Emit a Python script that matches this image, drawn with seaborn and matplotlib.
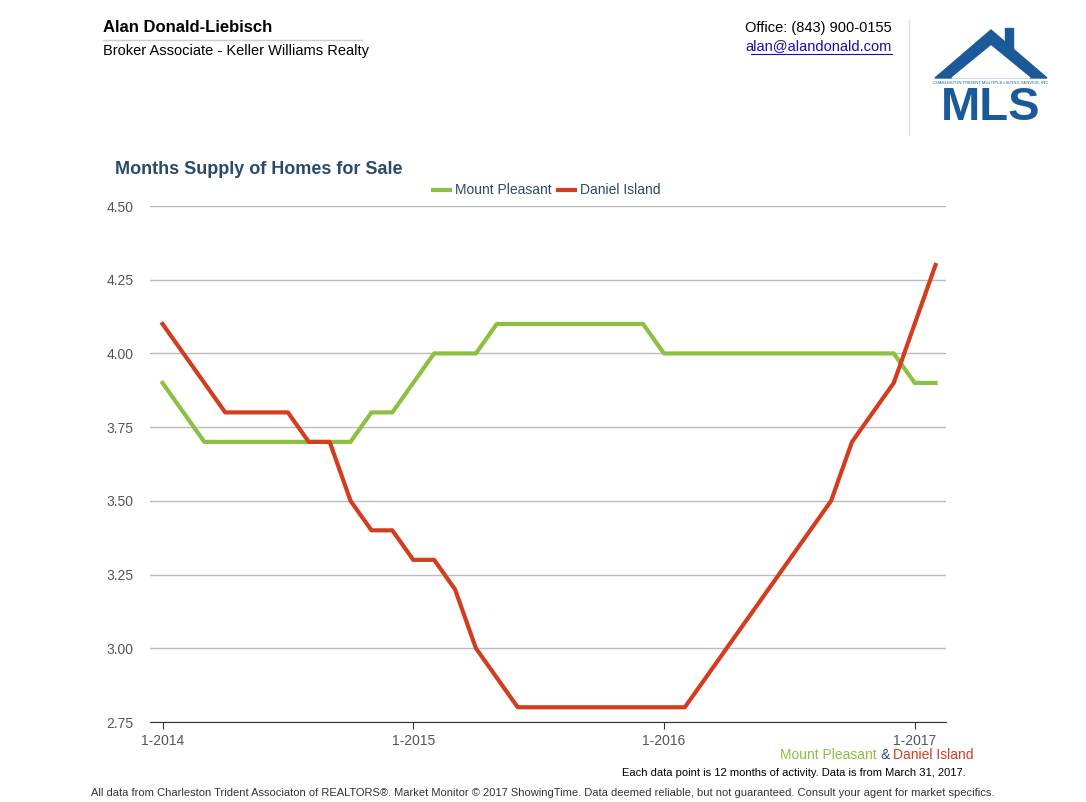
import matplotlib
matplotlib.use("Agg")
import matplotlib.pyplot as plt
import seaborn as sns
import pandas as pd
import numpy as np
from matplotlib.patches import Polygon, Rectangle

plt.rcParams["font.family"] = "Liberation Sans"

months = pd.date_range("2014-01-01", "2017-02-01", freq="MS")
mount_pleasant = [3.9,3.8,3.7,3.7,3.7,3.7,3.7,3.7,3.7,3.7,3.8,3.8,
                  3.9,4.0,4.0,4.0,4.1,4.1,4.1,4.1,4.1,4.1,4.1,4.1,
                  4.0,4.0,4.0,4.0,4.0,4.0,4.0,4.0,4.0,4.0,4.0,4.0,
                  3.9,3.9]
daniel_island = [4.1,4.0,3.9,3.8,3.8,3.8,3.8,3.7,3.7,3.5,3.4,3.4,
                 3.3,3.3,3.2,3.0,2.9,2.8,2.8,2.8,2.8,2.8,2.8,2.8,
                 2.8,2.8,2.9,3.0,3.1,3.2,3.3,3.4,3.5,3.7,3.8,3.9,
                 4.1,4.3]
yticks = [2.75,3.00,3.25,3.50,3.75,4.00,4.25,4.50]
xtick_labels = ["1-2014","1-2015","1-2016","1-2017"]

green = "#8cc043"; red = "#d33c1e"; navy = "#2a4a6b"
W, H = 1086, 802
fig = plt.figure(figsize=(W/100, H/100), dpi=100)
ax = fig.add_axes([150/W, 1-722/H, (946-150)/W, (722-206)/H])

df = pd.DataFrame({"date": list(months)*2,
                   "value": mount_pleasant + daniel_island,
                   "series": ["Mount Pleasant"]*len(months) + ["Daniel Island"]*len(months)})
df["x"] = (df["date"].dt.year - 2014)*12 + df["date"].dt.month - 1
sns.lineplot(data=df, x="x", y="value", hue="series", palette=[green, red],
             linewidth=3, ax=ax, legend=False)
ax.set_xlim(-0.6, 37.5)
ax.set_ylim(2.75, 4.5)
ax.set_yticks(yticks)
ax.set_yticklabels([f"{v:.2f}" for v in yticks], color="#555555", fontsize=10)
ax.set_xticks([0,12,24,36])
ax.set_xticklabels(xtick_labels, color="#555555", fontsize=10)
ax.set_xlabel(""); ax.set_ylabel("")
for s in ["top","right","left"]:
    ax.spines[s].set_visible(False)
ax.spines["bottom"].set_color("#333333")
ax.yaxis.grid(True, color="#bbbbbb", linewidth=1)
ax.set_axisbelow(True)
ax.tick_params(axis="y", length=0, pad=12)
ax.tick_params(axis="x", length=5, color="#333333")

def t(x, y, s, **kw):
    fig.text(x/W, 1-y/H, s, **kw)

t(103, 28, "Alan Donald-Liebisch", fontsize=12, fontweight="bold", va="center")
fig.add_artist(plt.Line2D([103/W, 362/W], [1-40/H]*2, color="#cccccc", lw=1))
t(103, 51, "Broker Associate - Keller Williams Realty", fontsize=10.5, va="center")
t(892, 28, "Office: (843) 900-0155", fontsize=10.5, ha="right", va="center")
t(892, 46, "alan@alandonald.com", fontsize=10.5, ha="right", va="center", color="#1a0dab")
fig.add_artist(plt.Line2D([751/W, 892/W], [1-54/H]*2, color="#1a0dab", lw=0.8))
fig.add_artist(plt.Line2D([909/W]*2, [1-20/H, 1-135/H], color="#dddddd", lw=1))
blue = "#1a5a9a"
fig.add_artist(Polygon([[935/W,1-78/H],[991/W,1-30/H],[1047/W,1-78/H]],
                       closed=True, color=blue, transform=fig.transFigure))
fig.add_artist(Polygon([[952/W,1-78/H],[991/W,1-46/H],[1030/W,1-78/H]],
                       closed=True, color="white", transform=fig.transFigure))
fig.add_artist(Rectangle((1005/W,1-50/H), 8/W, 22/H, color=blue, transform=fig.transFigure))
t(991, 108, "MLS", fontsize=34, fontweight="bold", color=blue, ha="center", va="center")
t(991, 83, "CHARLESTON TRIDENT MULTIPLE LISTING SERVICE, INC", fontsize=3, color=blue, ha="center", va="center")

t(115, 170, "Months Supply of Homes for Sale", fontsize=13, fontweight="bold", color=navy, va="center")
fig.add_artist(plt.Line2D([433/W, 450/W], [1-190/H]*2, color=green, lw=3))
t(455, 190, "Mount Pleasant", fontsize=10, color=navy, va="center")
fig.add_artist(plt.Line2D([558/W, 575/W], [1-190/H]*2, color=red, lw=3))
t(580, 190, "Daniel Island", fontsize=10, color=navy, va="center")

t(877, 755, "Mount Pleasant", fontsize=10, color=green, ha="right", va="center")
t(885, 755, "&", fontsize=10, color=navy, ha="center", va="center")
t(893, 755, "Daniel Island", fontsize=10, color=red, va="center")
t(966, 773, "Each data point is 12 months of activity. Data is from March 31, 2017.", fontsize=8, ha="right", va="center")
t(543, 793, "All data from Charleston Trident Associaton of REALTORS®. Market Monitor © 2017 ShowingTime. Data deemed reliable, but not guaranteed. Consult your agent for market specifics.",
  fontsize=8, ha="center", va="center", color="#333333")

fig.savefig("out.png", dpi=100)
